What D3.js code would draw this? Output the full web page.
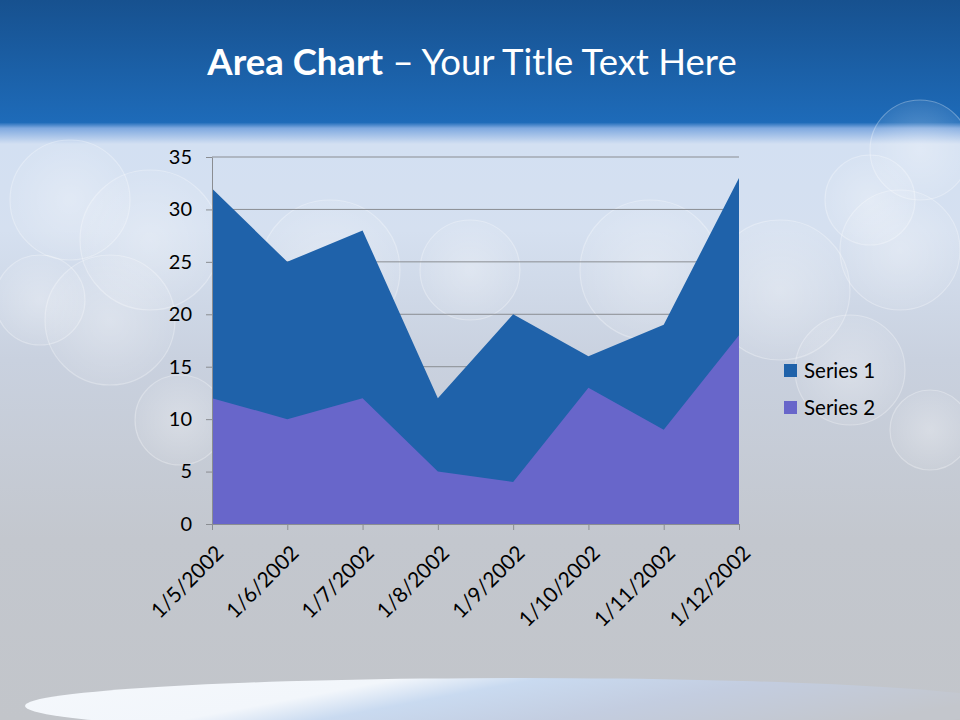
<!DOCTYPE html>
<html><head><meta charset="utf-8">
<script src="https://cdn.jsdelivr.net/npm/d3@7"></script>
<style>html,body{margin:0;padding:0;background:#c3c6cc;}svg{display:block;}</style>
</head><body>
<script>
const categories = ["1/5/2002","1/6/2002","1/7/2002","1/8/2002","1/9/2002","1/10/2002","1/11/2002","1/12/2002"];
const series1 = [32, 25, 28, 12, 20, 16, 19, 33];
const series2 = [12, 10, 12, 5, 4, 13, 9, 18];
const seriesNames = ["Series 1", "Series 2"];
const yTicks = [0, 5, 10, 15, 20, 25, 30, 35];
const colors = ["#1f62aa", "#6866ca"];

(function(){
const W = 960, H = 720;
const svg = d3.select("body").append("svg").attr("width", W).attr("height", H);
const defs = svg.append("defs");

// Background gradient
const bg = defs.append("linearGradient").attr("id","bg").attr("x1",0).attr("y1",0).attr("x2",0).attr("y2",1);
[[0,"#17518f"],[0.17,"#1e6bb9"],[0.178,"#7fa9e0"],[0.2,"#d3e0f2"],[0.32,"#d5e0f0"],[0.5,"#c9d1df"],[0.75,"#c3c7ce"],[1,"#c2c5ca"]]
  .forEach(([o,c]) => bg.append("stop").attr("offset",o).attr("stop-color",c));
svg.append("rect").attr("width",W).attr("height",H).attr("fill","url(#bg)");

// soft bokeh decorations
const glow = defs.append("radialGradient").attr("id","glow");
glow.append("stop").attr("offset",0).attr("stop-color","#ffffff").attr("stop-opacity",0.3);
glow.append("stop").attr("offset",1).attr("stop-color","#ffffff").attr("stop-opacity",0.08);
const bokeh = [[70,200,60],[150,240,70],[110,320,65],[40,300,45],[330,270,70],[470,270,50],[650,270,70],[780,290,70],[870,200,45],[900,250,60],[930,430,40],[850,370,55],[180,420,45],[920,150,50]];
svg.append("g").selectAll("circle").data(bokeh).join("circle")
  .attr("cx",d=>d[0]).attr("cy",d=>d[1]).attr("r",d=>d[2])
  .attr("fill","url(#glow)").attr("stroke","#ffffff").attr("stroke-opacity",0.3).attr("stroke-width",1.2);

// bottom ellipse highlight
const eg = defs.append("linearGradient").attr("id","eg").attr("x1",0).attr("y1",0).attr("x2",1).attr("y2",0.3);
[[0,"#f5f8fc"],[0.35,"#f2f6fb"],[0.48,"#c9daf0"],[0.7,"#c3cde0"],[1,"#c3c6cc"]].forEach(([o,c])=>eg.append("stop").attr("offset",o).attr("stop-color",c));
svg.append("ellipse").attr("cx",520).attr("cy",706).attr("rx",495).attr("ry",28).attr("fill","url(#eg)");

// Title
const title = svg.append("text").attr("x",472).attr("y",75).attr("text-anchor","middle")
  .attr("fill","#ffffff").attr("font-family","Lato, 'Open Sans', sans-serif").attr("font-size",36.5);
title.append("tspan").attr("font-weight","bold").text("Area Chart");
title.append("tspan").text(" \u2013 Your Title Text Here");

// Chart
const pl = 212, pr = 739, pt = 157, pb = 524;
const x = d3.scalePoint().domain(categories).range([pl, pr]);
const y = d3.scaleLinear().domain([0, 35]).range([pb, pt]);

// gridlines
svg.append("g").selectAll("line").data(yTicks.filter(t=>t>0)).join("line")
  .attr("x1",pl).attr("x2",pr).attr("y1",d=>y(d)).attr("y2",d=>y(d))
  .attr("stroke","#8a8d92").attr("stroke-width",1);

const area = (vals) => d3.area().x((d,i)=>x(categories[i])).y0(y(0)).y1(d=>y(d))(vals);
svg.append("path").attr("d", area(series1)).attr("fill", colors[0]);
svg.append("path").attr("d", area(series2)).attr("fill", colors[1]);

const font = "Lato, 'Open Sans', sans-serif";
// y axis
const ya = svg.append("g").attr("transform",`translate(${pl},0)`)
  .call(d3.axisLeft(y).tickValues(yTicks).tickSize(6).tickPadding(14).tickSizeOuter(0));
ya.select(".domain").attr("stroke","#8a8d92");
ya.selectAll(".tick line").attr("stroke","#8a8d92");
ya.selectAll(".tick text").attr("font-family",font).attr("font-size",20).attr("fill","#000");

// x axis
const xa = svg.append("g").attr("transform",`translate(0,${pb})`)
  .call(d3.axisBottom(x).tickSize(6).tickSizeOuter(0));
xa.select(".domain").attr("stroke","#8a8d92");
xa.selectAll(".tick line").attr("stroke","#8a8d92");
xa.selectAll(".tick text").attr("font-family",font).attr("font-size",21).attr("fill","#000")
  .attr("text-anchor","end").attr("dy",0).attr("transform","translate(6,24) rotate(-45)");

// legend
const lg = svg.append("g").attr("transform","translate(784,364)");
seriesNames.forEach((n,i)=>{
  const g = lg.append("g").attr("transform",`translate(0,${i*37})`);
  g.append("rect").attr("width",13).attr("height",13).attr("fill",colors[i]);
  g.append("text").attr("x",20).attr("y",14).attr("font-family",font).attr("font-size",20.5).attr("fill","#000").text(n);
});
})();
</script>
</body></html>
